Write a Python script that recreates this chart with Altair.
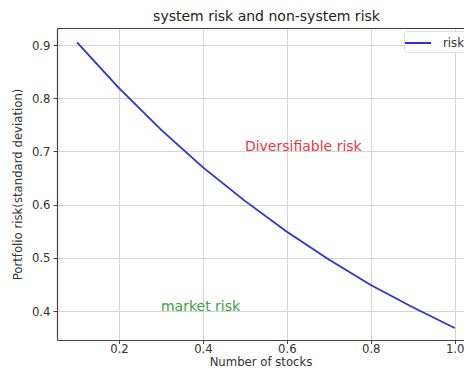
import altair as alt
import pandas as pd

# data
num_stocks = [0.1, 0.2, 0.3, 0.4, 0.5, 0.6, 0.7, 0.8, 0.9, 1.0]
risk_values = [0.905, 0.819, 0.741, 0.670, 0.607, 0.549, 0.497, 0.449, 0.407, 0.368]
series_name = ["risk"] * len(num_stocks)

label_text = ["Diversifiable risk", "market risk"]
label_x = [0.5, 0.3]
label_y = [0.7, 0.4]
label_color = ["#e8383d", "#3da13d"]

x_ticks = [0.2, 0.4, 0.6, 0.8, 1.0]
y_ticks = [0.4, 0.5, 0.6, 0.7, 0.8, 0.9]

FONT = "DejaVu Sans"

df = pd.DataFrame({"n": num_stocks, "risk": risk_values, "series": series_name})
labels = pd.DataFrame({"text": label_text, "x": label_x, "y": label_y, "c": label_color})

x_scale = alt.Scale(domain=[0.0522, 1.0222], nice=False, zero=False)
y_scale = alt.Scale(domain=[0.3455, 0.932], nice=False, zero=False)

x_axis = alt.Axis(
    title="Number of stocks", values=x_ticks, format=".1f",
    grid=True, gridColor="#d4d4d4", gridWidth=1,
    domainColor="#444444", domainWidth=1.2,
    tickColor="#444444", tickSize=3.5, labelPadding=0,
    labelFont=FONT, labelFontSize=11.7, labelColor="#333333",
    titleFont=FONT, titleFontSize=11.7, titleFontWeight="normal", titleColor="#333333",
    titlePadding=1,
)
y_axis = alt.Axis(
    title="Portfolio risk(standard deviation)", values=y_ticks, format=".1f",
    grid=True, gridColor="#d4d4d4", gridWidth=1,
    domainColor="#444444", domainWidth=1.2,
    tickColor="#444444", tickSize=4, labelPadding=3,
    labelFont=FONT, labelFontSize=11.7, labelColor="#333333",
    titleFont=FONT, titleFontSize=11.7, titleFontWeight="normal", titleColor="#333333",
    titlePadding=8,
)

line = alt.Chart(df).mark_line(strokeWidth=1.8).encode(
    x=alt.X("n:Q", scale=x_scale, axis=x_axis),
    y=alt.Y("risk:Q", scale=y_scale, axis=y_axis),
    color=alt.Color(
        "series:N",
        scale=alt.Scale(range=["#3030d8"]),
        legend=alt.Legend(
            title=None, orient="none", legendX=347, legendY=3,
            symbolType="M-1.45,0H1.45", symbolSize=324, symbolStrokeWidth=2,
            symbolOffset=2,
            labelFont=FONT, labelFontSize=11.7, labelColor="#333333",
            fillColor="white", strokeColor="#dddddd", cornerRadius=3,
            padding=2, labelOffset=15,
        ),
    ),
)

text = alt.Chart(labels).mark_text(
    align="left", baseline="alphabetic", font=FONT, fontSize=14
).encode(
    x=alt.X("x:Q", scale=x_scale, axis=None),
    y=alt.Y("y:Q", scale=y_scale),
    text="text:N",
    color=alt.Color("c:N", scale=None),
)

top_frame = alt.Chart(df).mark_line(opacity=0).encode(
    x=alt.X("n:Q", scale=x_scale, axis=alt.Axis(
        orient="top", title=None, labels=False, ticks=False, grid=False,
        domainColor="#444444", domainWidth=1.2)),
    y=alt.Y("risk:Q", scale=y_scale),
)

chart = alt.layer(line, text, top_frame).resolve_axis(x="independent").properties(
    width=407, height=312,
    autosize=alt.AutoSizeParams(type="none"),
    padding={"left": 49, "top": 20, "right": 0, "bottom": 29},
    title=alt.TitleParams(
        "system risk and non-system risk", font=FONT, fontSize=14,
        fontWeight="normal", color="#222222", offset=4, dx=6,
    ),
).configure_view(stroke=None)

chart.save("out.html", embed_options={"renderer": "svg", "actions": False})
